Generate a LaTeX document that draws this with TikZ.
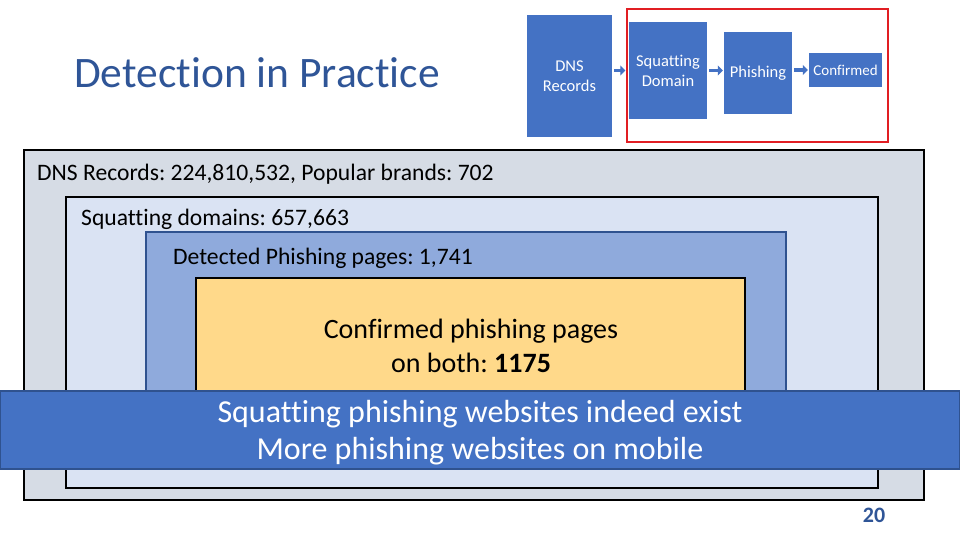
\documentclass[tikz,border=0pt]{standalone}
\usepackage{fontspec}
\setmainfont{Carlito}[Ligatures=NoCommon]
\usetikzlibrary{arrows.meta, positioning}
\definecolor{titleblue}{RGB}{47,85,151}
\definecolor{boxblue}{RGB}{68,114,196}
\definecolor{boxedge}{RGB}{47,82,143}
\definecolor{outerfill}{RGB}{214,220,229}
\definecolor{squatfill}{RGB}{218,227,243}
\definecolor{detfill}{RGB}{143,170,220}
\definecolor{conffill}{RGB}{255,217,138}
\definecolor{framered}{RGB}{225,30,35}
\frenchspacing

\begin{document}
\begin{tikzpicture}[x=1pt, y=-1pt,
  layer/.style={draw=black, line width=1.6pt},
  flow/.style={rectangle, fill=boxblue, text=white, align=center, inner sep=0pt,
               font=\fontsize{16.5}{20}\selectfont},
  link/.style={-{Triangle[length=5pt, width=10pt]}, boxblue, line width=3.5pt,
               shorten <=2pt, shorten >=1pt},
  lbl/.style={anchor=base west, inner sep=0pt, font=\fontsize{23.6}{26}\selectfont}]
  \useasboundingbox (0,0) rectangle (960,540);
  % title
  \node[anchor=base west, inner sep=0pt, text=titleblue, font=\fontsize{43.5}{46}\selectfont]
    (title) at (74,88) {Detection in Practice};
  % pipeline in the corner
  \node[flow, minimum width=85, minimum height=122] (dns) at (569.5,76) {DNS\\Records};
  \node[draw=framered, line width=1.4pt, minimum width=261, minimum height=133]
    (frame) at (757.5,75.5) {};
  \node[flow, minimum width=78, minimum height=97] (squat) at (668,70.5) {Squatting\\Domain};
  \node[flow, minimum width=68, minimum height=82] (phish) at (758,73) {Phishing};
  \node[flow, minimum width=73, minimum height=34, font=\fontsize{15}{18}\selectfont]
    (conf) at (845.5,70) {Confirmed};
  \draw[link] (dns.east |- squat) -- (frame.west |- squat);
  \draw[link] (squat.east) -- (phish.west |- squat);
  \draw[link] (phish.east |- conf) -- (conf.west);
  % nested boxes
  \draw[layer, fill=outerfill] (24,150) rectangle (924,500);
  \draw[layer, fill=squatfill] (66,197) rectangle (878,488);
  \draw[draw=boxedge, line width=1.2pt, fill=detfill] (146,232) rectangle (786,430);
  \draw[layer, fill=conffill] (196,278) rectangle (745,430);
  \node[lbl] (records) at (37,181) {DNS Records: 224,810,532, Popular brands: 702};
  \node[lbl] (domains) at (81,225) {Squatting domains: 657,663};
  \node[lbl] (detected) at (173,264) {Detected Phishing pages: 1,741};
  \node[anchor=base, align=center, inner sep=0pt, font=\fontsize{28}{34}\selectfont]
    (confirmed) at (471,372) {Confirmed phishing pages\\on both: \textbf{1175}};
  % message bar
  \node[fill=boxblue, draw=boxedge, line width=1.2pt, minimum width=960,
        minimum height=78, inner sep=0pt] (banner) at (480,430) {};
  \node[anchor=base, align=center, inner sep=0pt, text=white,
        font=\fontsize{32}{37}\selectfont] (message) at (480,459)
    {Squatting phishing websites indeed exist\\More phishing websites on mobile};
  \node[anchor=base, inner sep=0pt, text=titleblue, font=\fontsize{22}{24}\bfseries]
    (page) at (874,522) {20};
\end{tikzpicture}
\end{document}
